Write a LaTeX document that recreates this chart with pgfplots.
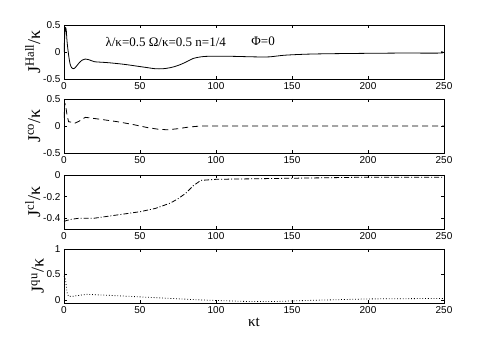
\documentclass[border=0pt]{standalone}
\usepackage{pgfplots}
\pgfplotsset{compat=1.18}
\usepackage{fontspec}
\setmainfont{Liberation Serif}
\newfontfamily\ticksans{Liberation Sans}

\pgfplotsset{
  panel/.style={
    scale only axis, width=380pt, height=54pt,
    anchor=south west,
    xmin=0, xmax=250,
    xtick={0,50,...,250},
    tick align=inside,
    major tick length=3pt,
    tick style={black, line width=0.4pt},
    axis line style={line width=0.6pt},
    ticklabel style={font=\ticksans\fontsize{10}{12}\selectfont},
    /pgf/number format/assume math mode=true,
    ylabel style={font=\fontsize{18}{20}\selectfont, yshift=-4pt},
    xtick pos=both, ytick pos=both,
    clip=true,
  },
}

\begin{document}
\begin{tikzpicture}[x=1pt,y=1pt]
\useasboundingbox (0,0) rectangle (491,343);

% panel 1: Hall current
\begin{axis}[panel, at={(64pt,264pt)},
  ymin=-0.5, ymax=0.5, ytick={-0.5,0,0.5},
  ylabel={J$^{\mathrm{Hall}}$/κ}]
\addplot[black, line width=0.8pt, smooth] coordinates {
 (0,0.0)(0.5,0.3)(1,0.45)(1.5,0.4)(2,0.2)(3,-0.05)(4,-0.22)(5,-0.29)(6,-0.31)
 (7,-0.3)(8,-0.27)(10,-0.2)(12,-0.15)(14,-0.13)(16,-0.14)(18,-0.16)(20,-0.18)
 (25,-0.19)(30,-0.2)(40,-0.23)(50,-0.27)(55,-0.29)(60,-0.31)(65,-0.31)(70,-0.29)
 (75,-0.25)(80,-0.19)(85,-0.12)(90,-0.09)(95,-0.08)(110,-0.08)(125,-0.09)
 (135,-0.09)(145,-0.06)(160,-0.04)(180,-0.03)(220,-0.02)(247,-0.02)(249,0)(250,-0.01)
};
\node[anchor=west, font=\fontsize{13}{15}\selectfont] at (axis cs:25,0.19) {λ/κ=0.5 Ω/κ=0.5 n=1/4};
\node[anchor=west, font=\fontsize{13}{15}\selectfont] at (axis cs:121,0.19) {Φ=0};
\end{axis}

% panel 2: co
\begin{axis}[panel, at={(64pt,190pt)},
  ymin=-0.5, ymax=0.5, ytick={-0.5,0,0.5},
  ylabel={J$^{\mathrm{co}}$/κ}]
\addplot[black, line width=0.8pt, dash pattern=on 6pt off 4pt] coordinates {
 (0,0.15)(0.5,0.42)(1,0.4)(2,0.2)(3,0.08)(5,0.07)(7,0.05)(10,0.09)(14,0.16)
 (17,0.15)(25,0.12)(35,0.08)(45,0.03)(55,-0.03)(62,-0.06)(68,-0.07)(75,-0.05)
 (82,-0.02)(90,0)(100,0)(250,0)
};
\end{axis}

% panel 3: cl
\begin{axis}[panel, at={(64pt,114pt)},
  ymin=-0.5, ymax=0, ytick={-0.4,-0.2,0},
  ylabel={J$^{\mathrm{cl}}$/κ}]
\addplot[black, line width=0.8pt, dash pattern=on 5pt off 2pt on 1pt off 2pt] coordinates {
 (0,-0.43)(2,-0.42)(5,-0.41)(10,-0.4)(20,-0.4)(30,-0.38)(40,-0.36)(50,-0.34)
 (60,-0.31)(70,-0.26)(75,-0.22)(80,-0.17)(85,-0.1)(90,-0.05)(100,-0.04)
 (150,-0.03)(200,-0.02)(250,-0.02)
};
\end{axis}

% panel 4: qu
\begin{axis}[panel, at={(64pt,40pt)},
  ymin=-0.06, ymax=1, ytick={0,0.5,1},
  ylabel={J$^{\mathrm{qu}}$/κ},
  xlabel={κt}, xlabel style={font=\fontsize{15}{17}\selectfont, yshift=2pt}]
\addplot[black, line width=0.8pt, dotted] coordinates {
 (0,0.47)(1,0.4)(2,0.15)(3,0.07)(5,0.07)(10,0.09)(15,0.11)(30,0.09)(50,0.06)
 (70,0.03)(90,0)(100,-0.01)(120,-0.03)(140,-0.03)(160,-0.01)(200,0.02)(250,0.03)
};
\end{axis}
\end{tikzpicture}
\end{document}
